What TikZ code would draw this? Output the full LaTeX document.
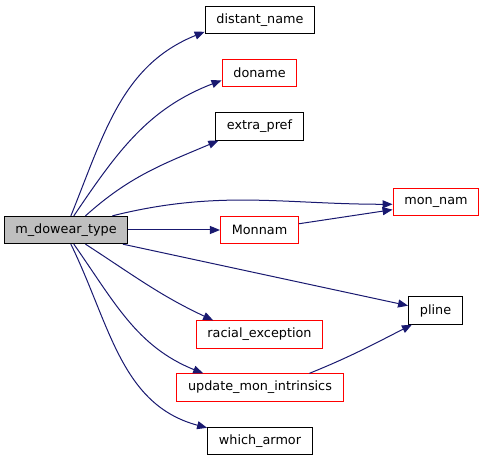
\documentclass[tikz,border=0pt]{standalone}
\usepackage{fontspec}
\setmainfont{DejaVu Sans}
\usetikzlibrary{arrows.meta,positioning}
\definecolor{navy}{HTML}{191970}
\definecolor{boxgray}{HTML}{BFBFBF}

\begin{document}
\begin{tikzpicture}[x=0.75pt,y=0.75pt,>={Triangle[length=7.5pt,width=6pt]},
  fn/.style={draw=black,fill=white,line width=0.75pt,minimum height=20.5pt,inner xsep=8.5pt,inner ysep=0pt,font=\fontsize{9.6}{11}\selectfont},
  ext/.style={fn,draw=red},
  call/.style={->,draw=navy,line width=0.75pt}]
  \useasboundingbox (0,0) rectangle (485,461);
  % caller
  \node[fn,fill=boxgray] (main) at (66,231) {m\_dowear\_type};
  % callees
  \node[fn] (distant) at (260,441) {distant\_name};
  \node[ext] (doname) at (259.5,388) {doname};
  \node[fn] (extra) at (259.5,334.5) {extra\_pref};
  \node[ext] (monnam) at (436,259) {mon\_nam};
  \node[ext] (Monnam) at (259.5,231) {Monnam};
  \node[fn] (pline) at (435.5,150.5) {pline};
  \node[ext] (racial) at (259.5,126.5) {racial\_exception};
  \node[ext] (update) at (260,73.5) {update\_mon\_intrinsics};
  \node[fn] (which) at (260,20) {which\_armor};
  % calls
  \draw[call] (main.71) to[out=68,in=202] (distant.192);
  \draw[call] (main.61) to[out=56,in=201] (doname.191);
  \draw[call] (main.36) to[out=42,in=203] (extra.199);
  \draw[call] (main.17) to[out=14,in=180] (monnam.183);
  \draw[call] (main.east) -- (Monnam.west);
  \draw[call] (Monnam.9) -- (monnam.190);
  \draw[call] (main.-14) -- (pline.170);
  \draw[call] (main.-36) to[out=-33,in=155] (racial.163);
  \draw[call] (main.-61) to[out=-55,in=158] (update.166);
  \draw[call] (main.-71) to[out=-64,in=165] (which.166);
  \draw[call] (update.16) to[out=22,in=207] (pline.211);
\end{tikzpicture}
\end{document}
